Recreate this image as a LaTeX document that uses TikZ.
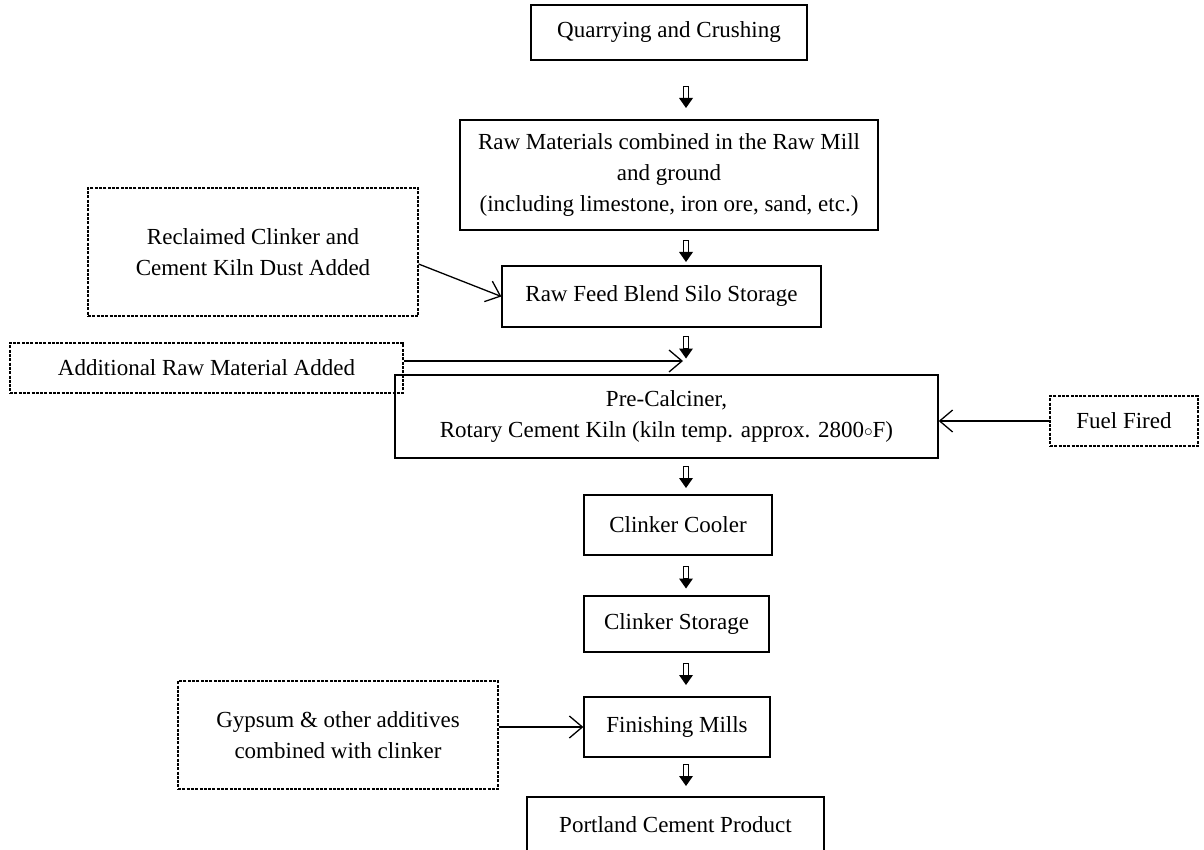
\documentclass[tikz,border=0pt]{standalone}
\usepackage{fontspec}
\setmainfont{Liberation Serif}
\usetikzlibrary{arrows.meta,calc}
\tikzset{
  box/.style={draw, line width=1.3pt, rectangle, inner sep=0pt, align=center},
  dbox/.style={draw, line width=1.1pt, dash pattern=on 3pt off 1.3pt, rectangle, inner sep=0pt, align=center},
  conn/.style={line width=1.3pt, -{Straight Barb[length=13pt, width=22pt, line width=1.3pt]}},
  dnarr/.pic={
    \draw[line width=0.9pt] (-2.5,-11) rectangle (2.5,1);
    \fill (-7,1) -- (7,1) -- (0,11) -- cycle;
  }
}
\begin{document}
\begin{tikzpicture}[x=1pt, y=-1pt, font=\fontsize{23}{31}\selectfont]
\useasboundingbox (0,0) rectangle (1204,850);
\fill[white] (0,0) rectangle (1204,850);
\begin{scope}
\clip (0,0) rectangle (1204,850);
\node[box, minimum width=276pt, minimum height=55pt] (q) at (669,32.5) {Quarrying and Crushing};
\node[box, minimum width=418pt, minimum height=110pt] (rm) at (669,175) {Raw Materials combined in the Raw Mill\\and ground\\(including limestone, iron ore, sand, etc.)};
\node[box, minimum width=319pt, minimum height=61pt] (rf) at (661.5,296.5) {Raw Feed Blend Silo Storage};
\node[dbox, minimum width=330pt, minimum height=128pt] (rec) at (253,252) {Reclaimed Clinker and\\Cement Kiln Dust Added};
\node[dbox, minimum width=393pt, minimum height=50pt] (add) at (206.5,368) {Additional Raw Material Added};
\node[box, minimum width=543pt, minimum height=83pt] (pc) at (666.5,416.5) {Pre-Calciner,\\Rotary Cement Kiln (kiln temp. approx. 2800{\raisebox{1pt}{$\scriptstyle\circ$}}F)};
\node[dbox, minimum width=148pt, minimum height=50pt] (fuel) at (1124,421) {Fuel Fired};
\node[box, minimum width=188pt, minimum height=60pt] (cc) at (678,525) {Clinker Cooler};
\node[box, minimum width=185pt, minimum height=56pt] (cs) at (676.5,624) {Clinker Storage};
\node[box, minimum width=186pt, minimum height=60pt] (fm) at (677,727) {Finishing Mills};
\node[dbox, minimum width=320pt, minimum height=108pt] (gyp) at (338,735) {Gypsum \& other additives\\combined with clinker};
\node[box, minimum width=297pt, minimum height=62pt] (pcp) at (675.5,828) {};
\node (pcpt) at (675.5,825) {Portland Cement Product};
\coordinate (addend) at (683,361);

\pic at (686,97) {dnarr};
\pic at (686,251) {dnarr};
\pic at (686,347.5) {dnarr};
\pic at (686,477) {dnarr};
\pic at (686,577.5) {dnarr};
\pic at (686,674) {dnarr};
\pic at (686,775) {dnarr};

\draw[conn] ([yshift=-12pt]rec.east) -- (rf.west);
\draw[conn] ([yshift=7pt]add.east) -- (addend);
\draw[conn] (fuel.west) -- (fuel.west -| pc.east);
\draw[conn] ([yshift=8pt]gyp.east) -- (fm.west);
\end{scope}
\end{tikzpicture}
\end{document}
